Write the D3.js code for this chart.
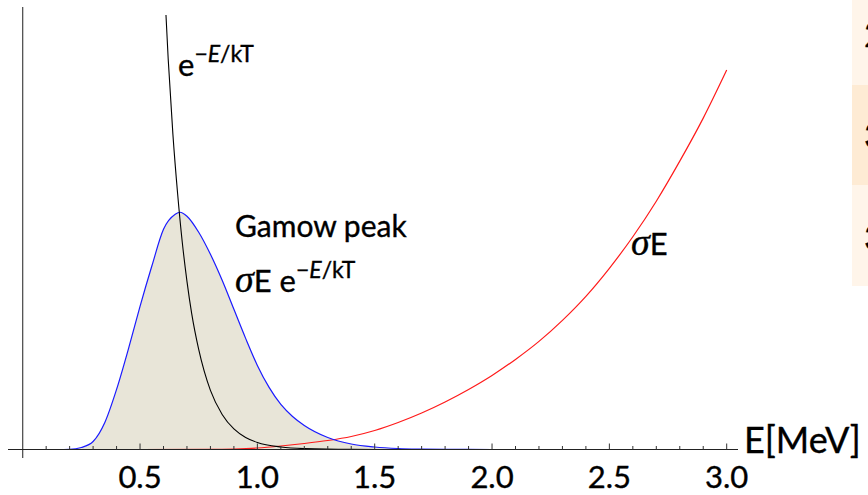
<!DOCTYPE html>
<html>
<head>
<meta charset="utf-8">
<script src="https://cdn.jsdelivr.net/npm/d3@7"></script>
<style>
  html, body { margin: 0; padding: 0; background: #fff; }
  svg { display: block; }
  text { font-family: Lato, "Open Sans", sans-serif; fill: #000; stroke: #000; stroke-width: 0.35px; }
  .greek { font-family: "Liberation Serif", "DejaVu Serif", serif; font-style: italic; }
  .ital { font-style: italic; }
</style>
</head>
<body>
<svg id="chart" width="868" height="495"></svg>
<script>
// Energy grid (MeV) and curve heights (arbitrary units) for each curve
const gamowE = [0, 0.15, 0.20, 0.25, 0.30, 0.35, 0.40, 0.45, 0.50, 0.55, 0.60, 0.65, 0.67, 0.70, 0.75, 0.80, 0.85, 0.90, 0.95, 1.00, 1.05, 1.10, 1.15, 1.20, 1.30, 1.40, 1.50, 1.60, 1.70, 1.80, 2.00, 3.00];
const gamowY = [0, 0, 0.2, 2, 8, 27, 60, 100, 143, 183, 220, 235, 237, 233, 217, 195, 169, 140, 111, 84, 62, 45, 33, 24, 12, 5.5, 2.5, 1, 0.4, 0.1, 0, 0];

const boltzE = [0.60, 0.62, 0.64, 0.66, 0.68, 0.70, 0.72, 0.75, 0.80, 0.85, 0.90, 0.95, 1.00, 1.10, 1.20, 1.40, 1.60, 3.00];
const boltzY = [483, 390, 315, 256, 207, 168, 136, 100, 59, 35, 20.5, 12, 7, 2.5, 0.9, 0.1, 0, 0];

const sigmaE = [0, 0.50, 0.80, 0.90, 1.00, 1.10, 1.20, 1.30, 1.40, 1.50, 1.60, 1.70, 1.80, 1.90, 2.00, 2.10, 2.20, 2.30, 2.40, 2.50, 2.60, 2.70, 2.80, 2.90, 3.00];
const sigmaY = [0, 0, 0.1, 0.5, 1.5, 3.5, 6, 9, 13, 19, 27, 36.5, 47.5, 60, 74, 90, 108, 129, 153, 181, 212.5, 248, 288, 331, 379];

const majorTicks = [0.5, 1.0, 1.5, 2.0, 2.5, 3.0];
const minorTicks = [0.1, 0.2, 0.3, 0.4, 0.6, 0.7, 0.8, 0.9, 1.1, 1.2, 1.3, 1.4, 1.6, 1.7, 1.8, 1.9, 2.1, 2.2, 2.3, 2.4, 2.6, 2.7, 2.8, 2.9];
const tickLabels = ["0.5", "1.0", "1.5", "2.0", "2.5", "3.0"];

const tableRows = ["2", "3", "3"];

const svg = d3.select("#chart");

const x = d3.scaleLinear().domain([0, 3]).range([22.7, 726.7]);
const y = d3.scaleLinear().domain([0, 434]).range([449.5, 15]);

// partial table strip on the right edge
const rowBands = [[0, 85, "#fff5ea"], [85, 185, "#feebd4"], [185, 286, "#fff5ea"]];
svg.selectAll("rect.band").data(rowBands).join("rect")
  .attr("class", "band")
  .attr("x", 852).attr("width", 16)
  .attr("y", d => d[0]).attr("height", d => d[1] - d[0])
  .attr("fill", d => d[2]);
svg.selectAll("text.row").data(tableRows).join("text")
  .attr("class", "row")
  .attr("x", 864)
  .attr("y", (d, i) => [47, 148, 250][i])
  .attr("font-size", 34)
  .text(d => d);

const plot = svg.append("g");
plot.append("clipPath").attr("id", "plotclip")
  .append("rect").attr("x", 0).attr("y", 15).attr("width", 868).attr("height", 440);

const pts = (xs, ys) => xs.map((e, i) => [e, ys[i]]);
const line = d3.line().x(d => x(d[0])).y(d => y(d[1])).curve(d3.curveMonotoneX);
const area = d3.area().x(d => x(d[0])).y0(y(0)).y1(d => y(d[1])).curve(d3.curveMonotoneX);

const curves = plot.append("g").attr("clip-path", "url(#plotclip)");

// shaded Gamow window
curves.append("path")
  .attr("d", area(pts(gamowE, gamowY)))
  .attr("fill", "#e8e5d8");

// axes
const axes = svg.append("g");
axes.append("line")
  .attr("x1", x(0)).attr("x2", x(0))
  .attr("y1", 7).attr("y2", 458)
  .attr("stroke", "#444").attr("stroke-width", 1.2);
axes.append("line")
  .attr("x1", 8).attr("x2", 738)
  .attr("y1", y(0)).attr("y2", y(0))
  .attr("stroke", "#222").attr("stroke-width", 1.2);
axes.selectAll("line.minor").data(minorTicks).join("line")
  .attr("class", "minor")
  .attr("x1", d => x(d)).attr("x2", d => x(d))
  .attr("y1", y(0) - 3.5).attr("y2", y(0))
  .attr("stroke", "#333").attr("stroke-width", 1);
axes.selectAll("line.major").data(majorTicks).join("line")
  .attr("class", "major")
  .attr("x1", d => x(d)).attr("x2", d => x(d))
  .attr("y1", y(0) - 6).attr("y2", y(0))
  .attr("stroke", "#333").attr("stroke-width", 1);
axes.selectAll("text.tick").data(majorTicks).join("text")
  .attr("class", "tick")
  .attr("x", d => x(d)).attr("y", 488)
  .attr("text-anchor", "middle")
  .attr("font-size", 31)
  .text((d, i) => tickLabels[i]);
axes.append("text")
  .attr("x", 744).attr("y", 453)
  .attr("font-size", 36)
  .text("E[MeV]");

// curves
curves.append("path").attr("d", line(pts(sigmaE, sigmaY)))
  .attr("fill", "none").attr("stroke", "#ff1a1a").attr("stroke-width", 1.2);
curves.append("path").attr("d", line(pts(gamowE, gamowY)))
  .attr("fill", "none").attr("stroke", "#1a1aff").attr("stroke-width", 1.2);
curves.append("path").attr("d", line(pts(boltzE, boltzY)))
  .attr("fill", "none").attr("stroke", "#000").attr("stroke-width", 1.1);

// labels
function exponent(t) {
  t.append("tspan").attr("dy", -14).attr("font-size", 23).text("\u2212");
  t.append("tspan").attr("font-size", 23).attr("class", "ital").text("E");
  t.append("tspan").attr("font-size", 23).text("/kT");
}

const t1 = svg.append("text").attr("x", 178).attr("y", 76).attr("font-size", 31);
t1.append("tspan").text("e");
exponent(t1);

svg.append("text").attr("x", 235).attr("y", 237).attr("font-size", 30).text("Gamow peak");

const t2 = svg.append("text").attr("x", 235).attr("y", 292).attr("font-size", 31);
t2.append("tspan").attr("class", "greek").attr("font-size", 38).text("\u03c3");
t2.append("tspan").text("E e");
exponent(t2);

const t3 = svg.append("text").attr("x", 631).attr("y", 255).attr("font-size", 31);
t3.append("tspan").attr("class", "greek").attr("font-size", 38).text("\u03c3");
t3.append("tspan").text("E");
</script>
</body>
</html>
